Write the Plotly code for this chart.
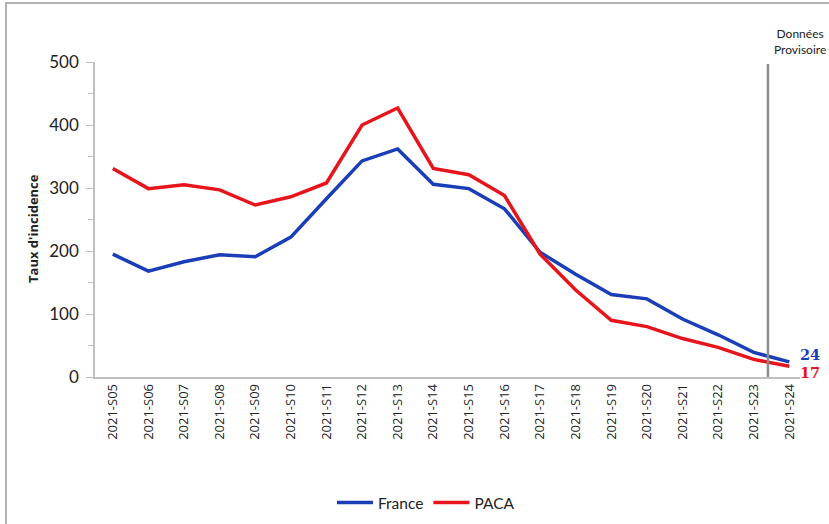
import plotly.graph_objects as go

weeks = ["2021-S05", "2021-S06", "2021-S07", "2021-S08", "2021-S09", "2021-S10",
         "2021-S11", "2021-S12", "2021-S13", "2021-S14", "2021-S15", "2021-S16",
         "2021-S17", "2021-S18", "2021-S19", "2021-S20", "2021-S21", "2021-S22",
         "2021-S23", "2021-S24"]
france = [195, 168, 183, 194, 191, 222, 283, 343, 362, 306, 299, 267, 198, 163,
          131, 124, 92, 67, 39, 24]
paca = [331, 299, 305, 297, 273, 286, 308, 400, 427, 331, 321, 288, 195, 138,
        90, 80, 61, 47, 28, 17]
y_ticks = [0, 100, 200, 300, 400, 500]

BLUE = "#1a3db8"
RED = "#e8141c"

W, H = 829, 524
L, R, T, B = 95, 29, 62, 147
pw, ph = W - L - R, H - T - B

def px(x):
    return (x - L) / pw

def py(y):
    return (H - B - y) / ph

xidx = list(range(len(weeks)))

fig = go.Figure()
fig.add_trace(go.Scatter(x=xidx, y=france, mode="lines", name="France",
                         line=dict(color=BLUE, width=3.5)))
fig.add_trace(go.Scatter(x=xidx, y=paca, mode="lines", name="PACA",
                         line=dict(color=RED, width=3.5)))

# vertical "provisional" separator
fig.add_shape(type="line", xref="x", yref="y", x0=18.4, x1=18.4, y0=0, y1=497,
              line=dict(color="#8c8c8c", width=2.5))

# outer frame
fig.add_shape(type="rect", xref="paper", yref="paper",
              x0=px(6), x1=px(835), y0=py(535), y1=py(3),
              line=dict(color="#9a9a9a", width=1.5), layer="below")

fig.add_annotation(x=px(800), y=py(41), xref="paper", yref="paper",
                   text="Données<br>Provisoire", showarrow=False,
                   xanchor="center", yanchor="middle",
                   font=dict(family="Lato, sans-serif", size=12, color="#222"))

# y-axis title as annotation for exact placement
fig.add_annotation(x=px(33), y=py(229), xref="paper", yref="paper",
                   text="<b>Taux d'incidence</b>", showarrow=False, textangle=-90,
                   xanchor="center", yanchor="middle",
                   font=dict(family="Open Sans, sans-serif", size=13, color="#222"))

fig.add_annotation(x=xidx[-1], y=france[-1], xref="x", yref="y",
                   text="<b>%d</b>" % france[-1], showarrow=False,
                   xanchor="left", xshift=9, yshift=7,
                   font=dict(family="DejaVu Serif, serif", size=14.5, color=BLUE))
fig.add_annotation(x=xidx[-1], y=paca[-1], xref="x", yref="y",
                   text="<b>%d</b>" % paca[-1], showarrow=False,
                   xanchor="left", xshift=9, yshift=-6,
                   font=dict(family="DejaVu Serif, serif", size=14.5, color=RED))

fig.update_layout(
    width=W, height=H,
    margin=dict(l=L, r=R, t=T, b=B, pad=0),
    plot_bgcolor="white", paper_bgcolor="white",
    showlegend=True,
    legend=dict(orientation="h", xref="container", yref="container",
                x=426 / W, xanchor="center", y=1 - 503 / H,
                yanchor="middle", font=dict(family="Lato, sans-serif", size=15.5, color="#222"),
                itemwidth=36, tracegroupgap=0),
    xaxis=dict(
        range=[-0.5, 19.3], tickmode="array", tickvals=xidx, ticktext=weeks,
        tickangle=-90, showgrid=False, zeroline=False,
        showline=True, linecolor="#c0c0c0", linewidth=1.5,
        ticks="", tickfont=dict(family="Open Sans, sans-serif", size=13, color="#222"),
        fixedrange=True, automargin=False,
    ),
    yaxis=dict(
        range=[0, 500], tickmode="array", tickvals=y_ticks,
        showgrid=False, zeroline=False,
        showline=True, linecolor="#c0c0c0", linewidth=1.5,
        ticks="outside", ticklen=7, tickcolor="#c0c0c0", tickwidth=1.2,
        ticklabelstandoff=4,
        minor=dict(ticks="outside", ticklen=5, dtick=50, tickcolor="#c0c0c0", tickwidth=1.2),
        tickfont=dict(family="Lato, sans-serif", size=17, color="#222"),
        fixedrange=True, automargin=False,
    ),
)

fig.write_html("out.html", config={"displayModeBar": False},
               post_script="document.body.style.margin='0';document.body.style.overflow='hidden';")
